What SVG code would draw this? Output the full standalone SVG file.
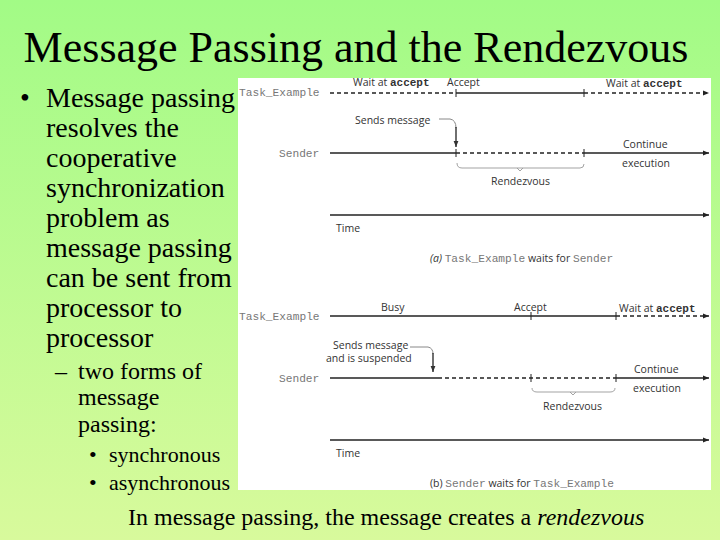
<svg xmlns="http://www.w3.org/2000/svg" width="720" height="540" viewBox="0 0 720 540">
<defs>
<linearGradient id="bg" x1="0" y1="0" x2="0" y2="1">
<stop offset="0" stop-color="#a2fb86"/>
<stop offset="1" stop-color="#d8fa9c"/>
</linearGradient>
<marker id="arr" viewBox="0 0 10 10" refX="10" refY="5" markerWidth="7" markerHeight="6" markerUnits="userSpaceOnUse" orient="auto">
<path d="M0,1 L10,5 L0,9 z" fill="#222"/>
</marker>
<marker id="arrd" viewBox="0 0 10 10" refX="10" refY="5" markerWidth="7" markerHeight="6" markerUnits="userSpaceOnUse" orient="auto">
<path d="M0,1 L10,5 L0,9 z" fill="#333"/>
</marker>
</defs>
<style>
.serif{font-family:"Liberation Serif","Times New Roman",serif;fill:#000}
.lbl{font-family:"Open Sans","Liberation Sans",sans-serif;font-size:10.5px;fill:#333}
.mono{font-family:"Liberation Mono","Courier New",monospace;font-size:11.2px;fill:#777}
.kw{font-family:"Liberation Mono","Courier New",monospace;font-size:11px;font-weight:bold;fill:#333}
.solid{stroke:#222;stroke-width:1.3;fill:none}
.dash{stroke:#222;stroke-width:1.3;fill:none;stroke-dasharray:4 3}
.tick{stroke:#222;stroke-width:1;fill:none}
.brace{stroke:#999;stroke-width:0.9;fill:none}
.curve{stroke:#888;stroke-width:1;fill:none}
</style>
<rect width="720" height="540" fill="url(#bg)"/>
<g id="title">
<text class="serif" x="356" y="62" font-size="44" text-anchor="middle">Message Passing and the Rendezvous</text>
</g>
<g id="bullets">
<text class="serif" font-size="28" x="20" y="107">•</text>
<text class="serif" font-size="28" x="46" y="107">Message passing</text>
<text class="serif" font-size="28" x="46" y="137">resolves the</text>
<text class="serif" font-size="28" x="46" y="167">cooperative</text>
<text class="serif" font-size="28" x="46" y="197">synchronization</text>
<text class="serif" font-size="28" x="46" y="227">problem as</text>
<text class="serif" font-size="28" x="46" y="257">message passing</text>
<text class="serif" font-size="28" x="46" y="287">can be sent from</text>
<text class="serif" font-size="28" x="46" y="317">processor to</text>
<text class="serif" font-size="28" x="46" y="347">processor</text>
<text class="serif" font-size="24" x="55" y="379">–</text>
<text class="serif" font-size="24" x="78" y="379">two forms of</text>
<text class="serif" font-size="24" x="78" y="405">message</text>
<text class="serif" font-size="24" x="78" y="432">passing:</text>
<text class="serif" font-size="22" x="89" y="462">•</text>
<text class="serif" font-size="22" x="109" y="462">synchronous</text>
<text class="serif" font-size="22" x="89" y="490">•</text>
<text class="serif" font-size="22" x="109" y="490">asynchronous</text>
</g>
<rect id="panel" x="238" y="78" width="473" height="412" fill="#fff"/>
<g id="diagram-a">
<text class="mono" x="239" y="96">Task_Example</text>
<text class="mono" x="279" y="157">Sender</text>
<text class="lbl" x="353" y="86">Wait at <tspan class="kw">accept</tspan></text>
<text class="lbl" x="447" y="86">Accept</text>
<text class="lbl" x="606" y="87">Wait at <tspan class="kw">accept</tspan></text>
<text class="lbl" x="355" y="124">Sends message</text>
<text class="lbl" x="623" y="148">Continue</text>
<text class="lbl" x="622" y="167">execution</text>
<text class="lbl" x="491" y="185">Rendezvous</text>
<text class="lbl" x="336" y="232">Time</text>
<text class="lbl" x="430" y="262"><tspan font-style="italic">(a)</tspan> <tspan class="mono">Task_Example</tspan> waits for <tspan class="mono">Sender</tspan></text>
</g>
<g id="diagram-b">
<text class="mono" x="239" y="320">Task_Example</text>
<text class="mono" x="279" y="382">Sender</text>
<text class="lbl" x="381" y="311">Busy</text>
<text class="lbl" x="514" y="311">Accept</text>
<text class="lbl" x="619" y="312">Wait at <tspan class="kw">accept</tspan></text>
<text class="lbl" x="333" y="349">Sends message</text>
<text class="lbl" x="326" y="362">and is suspended</text>
<text class="lbl" x="634" y="373">Continue</text>
<text class="lbl" x="633" y="392">execution</text>
<text class="lbl" x="543" y="410">Rendezvous</text>
<text class="lbl" x="336" y="457">Time</text>
<text class="lbl" x="430" y="487">(b) <tspan class="mono">Sender</tspan> waits for <tspan class="mono">Task_Example</tspan></text>
</g>
<g id="connectors">
<line class="dash" x1="330" y1="93" x2="456" y2="93"/>
<line class="solid" x1="456" y1="93" x2="584" y2="93"/>
<line class="dash" x1="584" y1="93" x2="709" y2="93" marker-end="url(#arr)"/>
<line class="tick" x1="456" y1="89" x2="456" y2="97"/>
<line class="tick" x1="584" y1="89" x2="584" y2="97"/>
<line class="solid" x1="330" y1="153" x2="456" y2="153"/>
<line class="dash" x1="456" y1="153" x2="584" y2="153"/>
<line class="solid" x1="584" y1="153" x2="709" y2="153" marker-end="url(#arr)"/>
<line class="tick" x1="456" y1="149" x2="456" y2="157"/>
<line class="tick" x1="584" y1="149" x2="584" y2="157"/>
<path class="curve" d="M439,119 H450 Q456,120 456,128"/>
<line class="solid" x1="456" y1="127" x2="456" y2="147" marker-end="url(#arrd)"/>
<path class="brace" d="M457,163 Q457,168 462,168 H580 Q584,168 584,164 M517,168 L520,171 L523,168"/>
<line class="solid" x1="330" y1="215" x2="709" y2="215" marker-end="url(#arr)"/>
<line class="solid" x1="330" y1="316" x2="616" y2="316"/>
<line class="dash" x1="616" y1="316" x2="709" y2="316" marker-end="url(#arr)"/>
<line class="tick" x1="531" y1="312" x2="531" y2="320"/>
<line class="tick" x1="616" y1="312" x2="616" y2="320"/>
<line class="solid" x1="330" y1="378" x2="438" y2="378"/>
<line class="dash" x1="438" y1="378" x2="616" y2="378"/>
<line class="solid" x1="616" y1="378" x2="709" y2="378" marker-end="url(#arr)"/>
<line class="tick" x1="531" y1="374" x2="531" y2="382"/>
<line class="tick" x1="616" y1="374" x2="616" y2="382"/>
<path class="curve" d="M410,347 H428 Q433,348 433,354"/>
<line class="solid" x1="433" y1="353" x2="433" y2="372" marker-end="url(#arrd)"/>
<path class="brace" d="M532,388 Q532,392 537,392 H610 Q615,392 615,388 M570,392 L573,395 L576,392"/>
<line class="solid" x1="330" y1="440" x2="709" y2="440" marker-end="url(#arr)"/>
</g>
<g id="footer">
<text class="serif" x="128" y="525" font-size="24">In message passing, the message creates a <tspan font-style="italic">rendezvous</tspan></text>
</g>
</svg>
